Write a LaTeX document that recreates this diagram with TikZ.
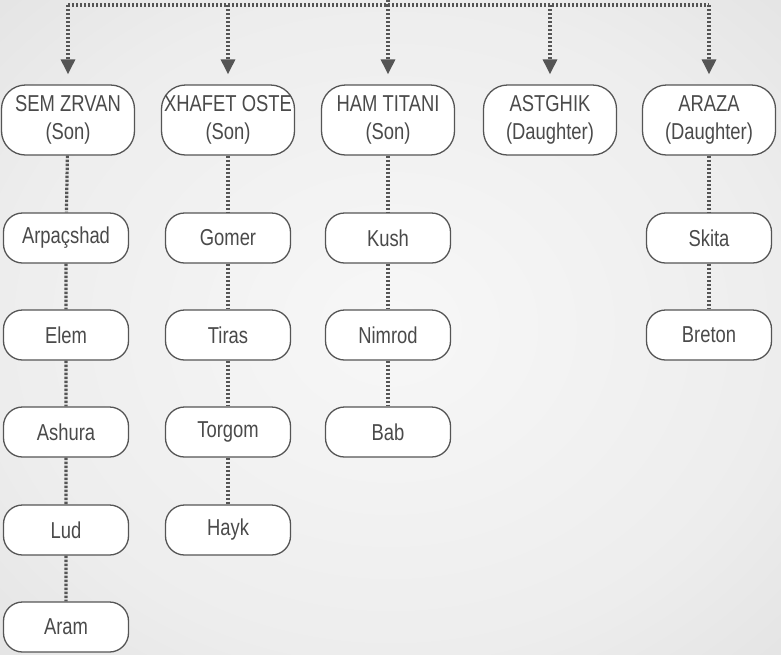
\documentclass[tikz,border=0pt]{standalone}
\usepackage{fontspec}
\setmainfont{Liberation Sans}[FakeStretch=0.8]
\usetikzlibrary{arrows.meta}
\definecolor{inkgray}{HTML}{4A4A4A}
\definecolor{linegray}{HTML}{555555}
\pgfdeclareradialshading{paper}{\pgfpoint{0bp}{0bp}}{color(0bp)=(white!97!black); color(25bp)=(white!93!black); color(72bp)=(white!78!black)}
\tikzset{
  person/.style={draw=linegray, line width=1.3pt, fill=white, rounded corners=24pt,
    minimum width=133pt, minimum height=70pt, inner sep=0pt, align=center,
    text=inkgray, font=\fontsize{23}{28}\selectfont},
  kid/.style={person, minimum width=125pt, minimum height=50pt, rounded corners=19pt},
  tie/.style={draw=linegray, line width=3.2pt, dash pattern=on 2.4pt off 1.6pt},
  drop/.style={tie, -{Triangle[width=14pt,length=15pt]}, shorten >=10pt}
}
\begin{document}
\begin{tikzpicture}[x=1pt,y=-1pt]
      \useasboundingbox (0,0) rectangle (781,654);
      \shade[shading=paper] (0,0) rectangle (781,654);

      % children of the root
      \node[person] (sem) at (68,120) {SEM ZRVAN\\(Son)};
      \node[person] (xhafet) at (228,120) {XHAFET OSTE\\(Son)};
      \node[person] (ham) at (388,120) {HAM TITANI\\(Son)};
      \node[person] (astghik) at (550,120) {ASTGHIK\\(Daughter)};
      \node[person] (araza) at (709,120) {ARAZA\\(Daughter)};

      % first column
      \node[kid] (arp) at (66,238) {Arpaçshad};
      \node[kid] (elem) at (66,335) {Elem};
      \node[kid] (ashura) at (66,432) {Ashura};
      \node[kid] (lud) at (66,530) {Lud};
      \node[kid] (aram) at (66,627) {Aram};

      % second column
      \node[kid] (gomer) at (228,238) {Gomer};
      \node[kid] (tiras) at (228,335) {Tiras};
      \node[kid] (torgom) at (228,432) {Torgom};
      \node[kid] (hayk) at (228,530) {Hayk};

      % third column
      \node[kid] (kush) at (388,238) {Kush};
      \node[kid] (nimrod) at (388,335) {Nimrod};
      \node[kid] (bab) at (388,432) {Bab};

      % last column
      \node[kid] (skita) at (709,238) {Skita};
      \node[kid] (breton) at (709,335) {Breton};

      % bar on top
      \coordinate (root) at (388,0);
      \coordinate (hub) at (388,5);
      \coordinate (barL) at (68,5);
      \coordinate (barR) at (709,5);
      \draw[tie] (root) -- (hub);
      \draw[tie] (barL) -- (barR);
      \foreach \n in {sem,xhafet,ham,astghik,araza} {
        \draw[drop] (\n.north |- hub) -- (\n.north);
      }

      % lines down the columns
      \draw[tie] (sem) -- (arp) -- (elem) -- (ashura) -- (lud) -- (aram);
      \draw[tie] (xhafet) -- (gomer) -- (tiras) -- (torgom) -- (hayk);
      \draw[tie] (ham) -- (kush) -- (nimrod) -- (bab);
      \draw[tie] (araza) -- (skita) -- (breton);
    \end{tikzpicture}
\end{document}
